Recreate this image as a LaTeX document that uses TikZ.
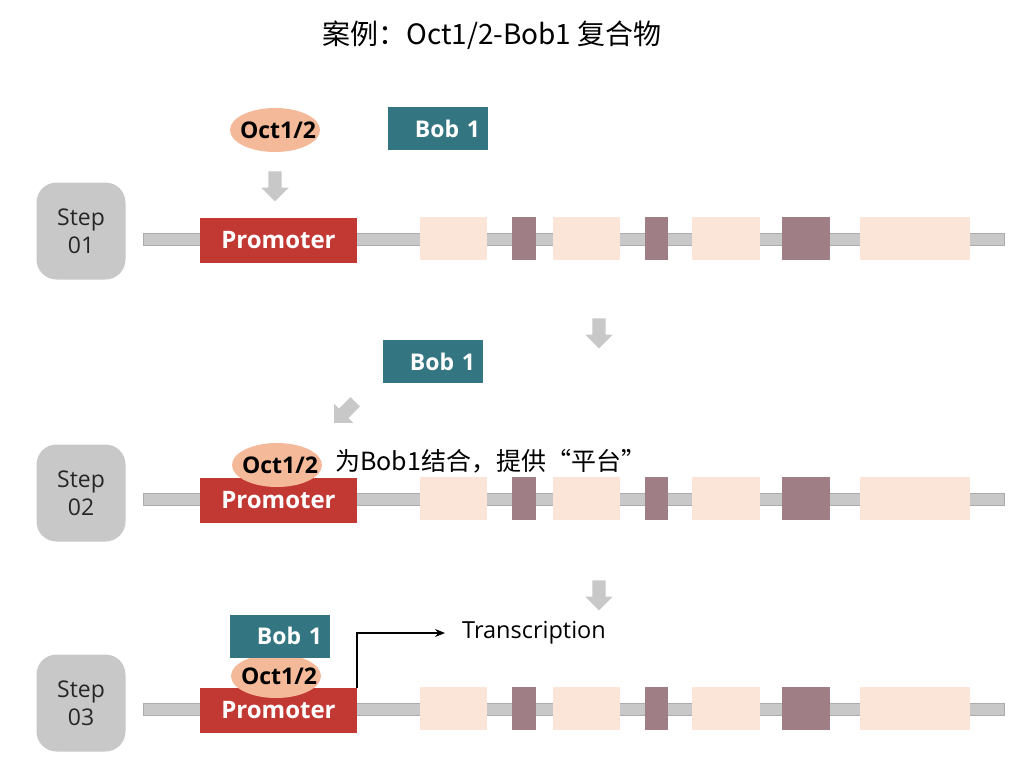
\documentclass[tikz,border=0pt]{standalone}
\usepackage{fontspec}
\setmainfont{Open Sans}
\newfontfamily\cjk{Noto Sans CJK SC}
\usetikzlibrary{positioning,shapes.geometric,shapes.arrows,arrows.meta}

\definecolor{promred}{RGB}{194,56,51}
\definecolor{octpink}{RGB}{244,185,153}
\definecolor{bobteal}{RGB}{51,117,128}
\definecolor{exlight}{RGB}{251,229,217}
\definecolor{exdark}{RGB}{160,126,134}
\definecolor{bargray}{RGB}{200,200,200}
\definecolor{barline}{RGB}{172,172,172}

\begin{document}
\begin{tikzpicture}[x=1pt,y=-1pt,
  stepbox/.style={rectangle,rounded corners=20pt,fill=bargray,minimum width=89pt,minimum height=97pt,align=center,font=\fontsize{23}{28}\selectfont,text=black!85},
  dna/.style={rectangle,fill=bargray,draw=barline,minimum width=861pt,minimum height=12pt,inner sep=0pt},
  prom/.style={rectangle,fill=promred,minimum width=157pt,minimum height=45pt,inner sep=0pt,text=white,font=\bfseries\fontsize{24}{28}\selectfont},
  oct/.style={ellipse,fill=octpink,minimum width=90pt,minimum height=44pt,inner sep=0pt},
  octtext/.style={inner sep=0pt,xshift=3pt,font=\bfseries\fontsize{23}{27}\selectfont},
  bob/.style={rectangle,fill=bobteal,text width=84pt,align=right,inner xsep=8pt,minimum height=43pt,text=white,font=\bfseries\fontsize{23}{27}\selectfont},
  lex/.style={rectangle,fill=exlight,minimum height=43pt,inner sep=0pt},
  dex/.style={rectangle,fill=exdark,minimum height=43pt,inner sep=0pt},
  garrow/.style={single arrow,fill=bargray,minimum height=30pt,minimum width=27pt,single arrow head extend=7pt,inner xsep=0pt,inner ysep=6.5pt}]
  \useasboundingbox (0,0) rectangle (1018,772);

  \node[font=\cjk\fontsize{28}{32}\selectfont] (title) at (492,35) {案例：Oct1/2-Bob1 复合物};

  % gene rows
  \foreach \r/\y in {1/239,2/499,3/709}{
    \node[dna] (b\r) at (573.5,\y) {};
    \node[lex,minimum width=67pt] (l\r a) at (453.5,\y-0.5) {};
    \node[dex,minimum width=24pt] (d\r a) at (524,\y-0.5) {};
    \node[lex,minimum width=67pt] (l\r b) at (586.5,\y-0.5) {};
    \node[dex,minimum width=23pt] (d\r b) at (656.5,\y-0.5) {};
    \node[lex,minimum width=68pt] (l\r c) at (726,\y-0.5) {};
    \node[dex,minimum width=48pt] (d\r c) at (806,\y-0.5) {};
    \node[lex,minimum width=110pt] (l\r d) at (915,\y-0.5) {};
    \node[prom] (p\r) at (278.5,\y+1.5) {Promoter};
  }

  \node[stepbox] (s1) at (81,231) {Step\\01};
  \node[stepbox] (s2) at (81,493) {Step\\02};
  \node[stepbox] (s3) at (81,703) {Step\\03};

  % step 01
  \node[oct,label={[octtext]center:Oct1/2}] (o1) at (275,130) {};
  \node[bob] (bob1) at (438,128.5) {Bob 1};
  \node[garrow,rotate=-90] (g1) at (275,183) {};
  \node[garrow,rotate=-90] (g2) at (599,330) {};

  % step 02
  \node[bob] (bob2) at (433,361.5) {Bob 1};
  \node[garrow,rotate=-135] (g3) at (347,410) {};
  \node[oct,label={[octtext]center:Oct1/2}] (o2) at (277,465) {};
  \node[anchor=west,inner sep=0pt,font=\cjk\fontsize{25}{29}\selectfont] (note) at (335,461) {为Bob1结合，提供“平台”};
  \node[garrow,rotate=-90] (g4) at (599,592) {};

  % step 03
  \node[oct,label={[octtext]center:Oct1/2}] (o3) at (276,676) {};
  \node[bob] (bob3) at (280,636) {Bob 1};
  \node[anchor=west,inner sep=0pt,font=\fontsize{23.5}{27}\selectfont] (tr) at (462,633) {Transcription};
  \draw[line width=1.5pt,-{Stealth[length=10pt,width=8pt]},shorten >=17pt] (p3.north east) |- (tr.west);
\end{tikzpicture}
\end{document}
